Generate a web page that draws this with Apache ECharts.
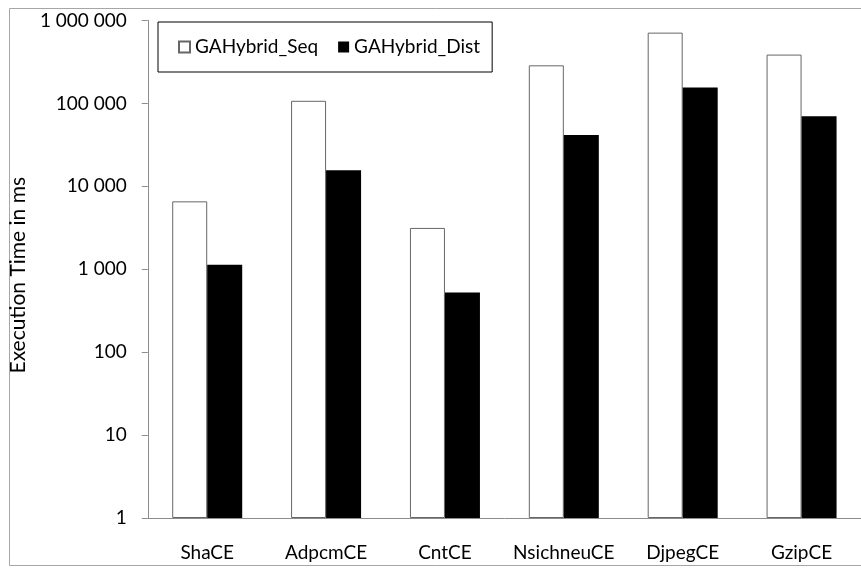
<!DOCTYPE html>
<html><head><meta charset="utf-8">
<script src="https://cdn.jsdelivr.net/npm/echarts@6/dist/echarts.min.js"></script>
<style>html,body{margin:0;padding:0;background:#fff}#c{width:861px;height:568px}</style>
</head><body><div id="c"></div>
<script>
const categories = ['ShaCE', 'AdpcmCE', 'CntCE', 'NsichneuCE', 'DjpegCE', 'GzipCE'];
const seqValues = [6590, 107500, 3150, 288000, 714000, 388000];
const distValues = [1136, 15600, 526, 41700, 156000, 69900];
const seriesNames = ['GAHybrid_Seq', 'GAHybrid_Dist'];
const yTitle = 'Execution Time in ms';

const FONT = 'Lato, "Open Sans", sans-serif';
const chart = echarts.init(document.getElementById('c'), null, {renderer: 'canvas'});
function fmt(v) { return String(Math.round(v)).replace(/\B(?=(\d{3})+(?!\d))/g, ' '); }
chart.setOption({
  animation: false,
  backgroundColor: '#fff',
  graphic: [{
    type: 'rect', shape: {x: 9.5, y: 8.5, width: 900, height: 557},
    style: {fill: 'none', stroke: '#a6a6a6', lineWidth: 1}, z: -1
  }],
  legend: {
    left: 158, top: 22,
    padding: [14, 12, 14, 20],
    borderColor: '#000', borderWidth: 1,
    icon: 'rect', itemWidth: 11, itemHeight: 11, itemGap: 20,
    textStyle: {fontFamily: FONT, fontSize: 19, color: '#000', lineHeight: 22},
    data: seriesNames
  },
  grid: {left: 131, width: 740, top: 20.5, height: 497.5},
  xAxis: {
    type: 'category', data: categories,
    axisLine: {lineStyle: {color: '#8c8c8c'}},
    axisTick: {show: false},
    axisLabel: {interval: 0, fontFamily: FONT, fontSize: 19, color: '#000', margin: 25}
  },
  yAxis: {
    type: 'log', logBase: 10, min: 1, max: 1000000,
    name: yTitle, nameLocation: 'middle', nameGap: 94,
    nameTextStyle: {fontFamily: FONT, fontSize: 21, color: '#000', padding: [0, 12, 0, 0]},
    axisLine: {show: true, lineStyle: {color: '#8c8c8c'}},
    axisTick: {show: true, length: 6, lineStyle: {color: '#8c8c8c'}},
    splitLine: {show: false},
    axisLabel: {fontFamily: FONT, fontSize: 19, color: '#000', margin: 21, formatter: fmt}
  },
  series: [{
    name: seriesNames[0], type: 'bar', data: seqValues,
    barWidth: 35, barGap: '0%',
    itemStyle: {color: '#fff', borderColor: '#666', borderWidth: 1}
  }, {
    name: seriesNames[1], type: 'bar', data: distValues,
    barWidth: 35, barGap: '0%',
    itemStyle: {color: '#000'}
  }]
});
</script></body></html>
